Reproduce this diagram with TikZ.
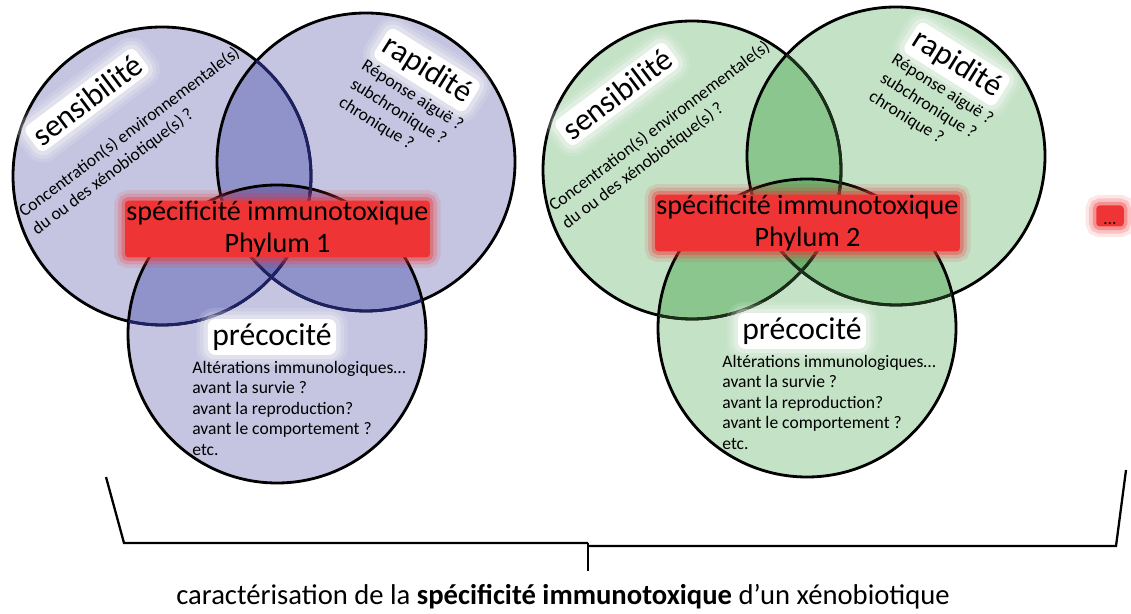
\documentclass[tikz,border=0pt]{standalone}
\usepackage{fontspec}
\setmainfont{Carlito}
\usetikzlibrary{calc}
\definecolor{lavL}{RGB}{197,197,225}
\definecolor{lavD}{RGB}{144,146,202}
\definecolor{lavDD}{RGB}{110,112,182}
\definecolor{lavLn}{RGB}{30,32,100}
\definecolor{grnL}{RGB}{196,226,198}
\definecolor{grnD}{RGB}{138,198,142}
\definecolor{grnDD}{RGB}{104,176,110}
\definecolor{grnLn}{RGB}{25,45,25}
\definecolor{boxred}{RGB}{238,52,52}

\begin{document}
\begin{tikzpicture}[x=0.02cm, y=-0.02cm,
  ring/.style={draw=black, line width=1.6pt},
  glow/.style={fill=white, rounded corners=4pt, inner sep=2.5pt,
    preaction={draw=white, opacity=.12, line width=13pt},
    preaction={draw=white, opacity=.18, line width=9pt},
    preaction={draw=white, opacity=.3, line width=5pt}},
  redbox/.style={fill=boxred, inner sep=0pt, rounded corners=2pt,
    preaction={draw=boxred, opacity=.12, line width=12pt},
    preaction={draw=boxred, opacity=.2, line width=8pt},
    preaction={draw=boxred, opacity=.35, line width=4pt}},
  titre/.style={font=\fontsize{18}{20}\selectfont},
  petit/.style={font=\fontsize{10}{12.2}\selectfont, align=left, inner sep=0pt}]
  \useasboundingbox (0,0) rectangle (1131,614);
  % les deux phylums
  \foreach \dx/\dy/\cl/\cd/\cdd/\cn/\n in {0/0/lavL/lavD/lavDD/lavLn/1, 530/-6/grnL/grnD/grnDD/grnLn/2}{
  \begin{scope}[shift={(\dx,\dy)}]
    \coordinate (S) at (162,176);
    \coordinate (R) at (366,162);
    \coordinate (P) at (277,334);
    % fonds
    \path[fill=\cl] (S) circle[radius=149] (R) circle[radius=149] (P) circle[radius=149];
    \begin{scope}
      \clip (S) circle[radius=149];
      \path[fill=\cd] (R) circle[radius=149] (P) circle[radius=149];
    \end{scope}
    \begin{scope}
      \clip (R) circle[radius=149];
      \path[fill=\cd] (P) circle[radius=149];
    \end{scope}
    \begin{scope}
      \clip (S) circle[radius=149];
      \clip (R) circle[radius=149];
      \path[fill=\cdd] (P) circle[radius=149];
    \end{scope}
    % contours
    \path[ring] (S) circle[radius=149] (R) circle[radius=149] (P) circle[radius=149];
    \begin{scope}
      \clip (R) circle[radius=149];
      \path[ring, draw=\cn] (S) circle[radius=149];
    \end{scope}
    \begin{scope}
      \clip (P) circle[radius=149];
      \path[ring, draw=\cn] (S) circle[radius=149] (R) circle[radius=149];
    \end{scope}
    % textes
    \node[redbox, minimum width=6.1cm, minimum height=1cm, align=center,
      font=\fontsize{16}{18.7}\selectfont] (spec\n) at (277.5,229) {spécificité immunotoxique\\Phylum \n};
    \node[titre, glow, rotate=37] (sens\n) at (87,100) {sensibilité};
    \node[titre, glow, rotate=-32] (rap\n) at (427,70) {rapidité};
    \node[titre, glow] (prec\n) at (272,337) {précocité};
    \node[petit, rotate=37] (conc\n) at (136,141) {Concentration(s) environnementale(s)\\du ou des xénobiotique(s) ?};
    \node[petit, rotate=-32] (rep\n) at (401,114) {Réponse aiguë ?\\subchronique ?\\chronique ?};
    \node[petit, anchor=north west, font=\fontsize{10}{11.6}\selectfont] (alt\n) at (192,361)
      {Altérations immunologiques…\\avant la survie ?\\avant la reproduction?\\avant le comportement ?\\etc.};
  \end{scope}
  }
  % la suite
  \node[redbox, minimum width=0.55cm, minimum height=0.42cm] (suite) at (1110,216) {};
  \node[font=\fontsize{10}{12}\selectfont, inner sep=0pt] (pts) at (1110,224) {…};
  % accolade
  \coordinate (bg) at (106,477);
  \coordinate (bgb) at (124,543);
  \coordinate (mil) at (588,543);
  \coordinate (mil2) at (588,546);
  \coordinate (bdb) at (1116,546);
  \coordinate (bd) at (1126,470);
  \coordinate (tick) at (588,571);
  \path[draw, line width=1.3pt] (bg)--(bgb)--(mil);
  \path[draw, line width=1.3pt] (mil2)--(bdb)--(bd);
  \path[draw, line width=1.3pt] (mil)--(tick);
  \node[font=\fontsize{16.3}{19}\selectfont] (carac) at (563,597)
    {caractérisation de la \textbf{spécificité immunotoxique} d’un xénobiotique};
\end{tikzpicture}
\end{document}
